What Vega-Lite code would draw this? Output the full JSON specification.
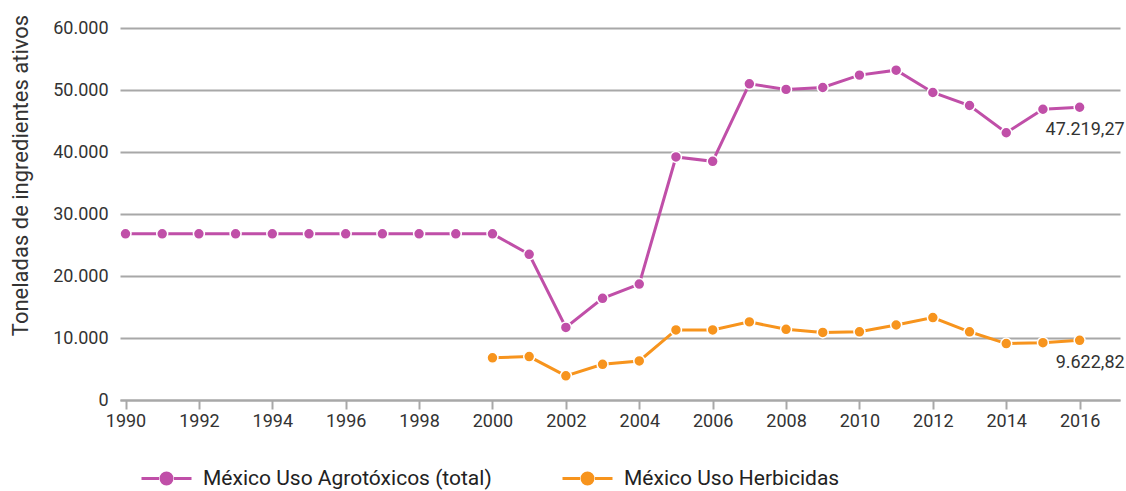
{
  "$schema": "https://vega.github.io/schema/vega-lite/v6.json",
  "width": 1000,
  "height": 372,
  "autosize": {"type": "none"},
  "padding": {"left": 120, "top": 28, "right": 6, "bottom": 91},
  "background": "white",
  "config": {
    "locale": {"number": {"decimal": ",", "thousands": ".", "grouping": [3], "currency": ["", ""]}},
    "font": "Roboto",
    "view": {"stroke": null}
  },
  "data": {
    "values": [
      {"year": 1990, "series": "México Uso Agrotóxicos (total)", "value": 26800},
      {"year": 1991, "series": "México Uso Agrotóxicos (total)", "value": 26800},
      {"year": 1992, "series": "México Uso Agrotóxicos (total)", "value": 26800},
      {"year": 1993, "series": "México Uso Agrotóxicos (total)", "value": 26800},
      {"year": 1994, "series": "México Uso Agrotóxicos (total)", "value": 26800},
      {"year": 1995, "series": "México Uso Agrotóxicos (total)", "value": 26800},
      {"year": 1996, "series": "México Uso Agrotóxicos (total)", "value": 26800},
      {"year": 1997, "series": "México Uso Agrotóxicos (total)", "value": 26800},
      {"year": 1998, "series": "México Uso Agrotóxicos (total)", "value": 26800},
      {"year": 1999, "series": "México Uso Agrotóxicos (total)", "value": 26800},
      {"year": 2000, "series": "México Uso Agrotóxicos (total)", "value": 26800},
      {"year": 2001, "series": "México Uso Agrotóxicos (total)", "value": 23500},
      {"year": 2002, "series": "México Uso Agrotóxicos (total)", "value": 11700},
      {"year": 2003, "series": "México Uso Agrotóxicos (total)", "value": 16400},
      {"year": 2004, "series": "México Uso Agrotóxicos (total)", "value": 18700},
      {"year": 2005, "series": "México Uso Agrotóxicos (total)", "value": 39200},
      {"year": 2006, "series": "México Uso Agrotóxicos (total)", "value": 38500},
      {"year": 2007, "series": "México Uso Agrotóxicos (total)", "value": 51000},
      {"year": 2008, "series": "México Uso Agrotóxicos (total)", "value": 50100},
      {"year": 2009, "series": "México Uso Agrotóxicos (total)", "value": 50400},
      {"year": 2010, "series": "México Uso Agrotóxicos (total)", "value": 52400},
      {"year": 2011, "series": "México Uso Agrotóxicos (total)", "value": 53200},
      {"year": 2012, "series": "México Uso Agrotóxicos (total)", "value": 49600},
      {"year": 2013, "series": "México Uso Agrotóxicos (total)", "value": 47500},
      {"year": 2014, "series": "México Uso Agrotóxicos (total)", "value": 43100},
      {"year": 2015, "series": "México Uso Agrotóxicos (total)", "value": 46900},
      {"year": 2016, "series": "México Uso Agrotóxicos (total)", "value": 47219.27},
      {"year": 2000, "series": "México Uso Herbicidas", "value": 6800},
      {"year": 2001, "series": "México Uso Herbicidas", "value": 7000},
      {"year": 2002, "series": "México Uso Herbicidas", "value": 3900},
      {"year": 2003, "series": "México Uso Herbicidas", "value": 5750},
      {"year": 2004, "series": "México Uso Herbicidas", "value": 6300},
      {"year": 2005, "series": "México Uso Herbicidas", "value": 11300},
      {"year": 2006, "series": "México Uso Herbicidas", "value": 11300},
      {"year": 2007, "series": "México Uso Herbicidas", "value": 12600},
      {"year": 2008, "series": "México Uso Herbicidas", "value": 11400},
      {"year": 2009, "series": "México Uso Herbicidas", "value": 10900},
      {"year": 2010, "series": "México Uso Herbicidas", "value": 11000},
      {"year": 2011, "series": "México Uso Herbicidas", "value": 12100},
      {"year": 2012, "series": "México Uso Herbicidas", "value": 13300},
      {"year": 2013, "series": "México Uso Herbicidas", "value": 11000},
      {"year": 2014, "series": "México Uso Herbicidas", "value": 9100},
      {"year": 2015, "series": "México Uso Herbicidas", "value": 9250},
      {"year": 2016, "series": "México Uso Herbicidas", "value": 9622.82}
    ]
  },
  "encoding": {
    "x": {
      "field": "year", "type": "quantitative",
      "scale": {"domain": [1989.85, 2017.1], "nice": false, "zero": false},
      "axis": {
        "title": null,
        "values": [1990, 1992, 1994, 1996, 1998, 2000, 2002, 2004, 2006, 2008, 2010, 2012, 2014, 2016],
        "format": "d",
        "grid": false,
        "domainColor": "#a8a8a8", "domainWidth": 2,
        "tickColor": "#a8a8a8", "tickWidth": 2, "tickSize": 9,
        "labelFont": "Roboto", "labelFontSize": 18, "labelColor": "#333333",
        "labelPadding": 3
      }
    },
    "y": {
      "field": "value", "type": "quantitative",
      "scale": {"domain": [0, 60000], "nice": false},
      "axis": {
        "title": "Toneladas de ingredientes ativos",
        "titleFont": "Roboto", "titleFontSize": 22, "titleFontWeight": "normal", "titleColor": "#333333",
        "titleAnchor": "middle",
        "titleX": -100,
        "titleY": 147,
        "titleBaseline": "middle",
        "titleAngle": -90,
        "values": [0, 10000, 20000, 30000, 40000, 50000, 60000],
        "format": ",.0f",
        "domain": false, "ticks": false,
        "grid": true, "gridColor": "#a8a8a8", "gridWidth": 2,
        "labelFont": "Roboto", "labelFontSize": 18, "labelColor": "#333333",
        "labelPadding": 12
      }
    },
    "color": {
      "field": "series", "type": "nominal",
      "scale": {"domain": ["México Uso Agrotóxicos (total)", "México Uso Herbicidas"], "range": ["#c04fa8", "#f7941d"]},
      "legend": {
        "title": null,
        "orient": "none",
        "legendX": 20,
        "legendY": 424,
        "direction": "horizontal",
        "columns": 2,
        "columnPadding": 64,
        "labelLimit": 500,
        "symbolType": "M-1,0L-0.3,0M0.3,0L1,0M-0.22,0A0.22,0.22,0,1,1,0.22,0A0.22,0.22,0,1,1,-0.22,0Z",
        "symbolSize": 2500,
        "symbolStrokeWidth": 3,
        "labelFont": "Roboto", "labelFontSize": 21, "labelColor": "#222222",
        "labelOffset": 10,
        "encode": {
          "symbols": {
            "update": {
              "stroke": {"scale": "color", "field": "value"},
              "fill": {"scale": "color", "field": "value"},
              "fillOpacity": {"value": 1}
            }
          }
        }
      }
    }
  },
  "layer": [
    {"mark": {"type": "line", "strokeWidth": 3}},
    {"mark": {"type": "point", "filled": true, "size": 120, "stroke": "white", "strokeWidth": 1.5, "opacity": 1}, "encoding": {"stroke": {"value": "white"}}},
    {
      "transform": [{"filter": "datum.year == 2016"}],
      "mark": {"type": "text", "align": "right", "baseline": "middle", "dx": 45, "dy": 23, "fontSize": 18, "font": "Roboto", "color": "#333333"},
      "encoding": {"text": {"field": "value", "type": "quantitative", "format": ",.2f"}, "color": {"value": "#333333"}}
    }
  ]
}
